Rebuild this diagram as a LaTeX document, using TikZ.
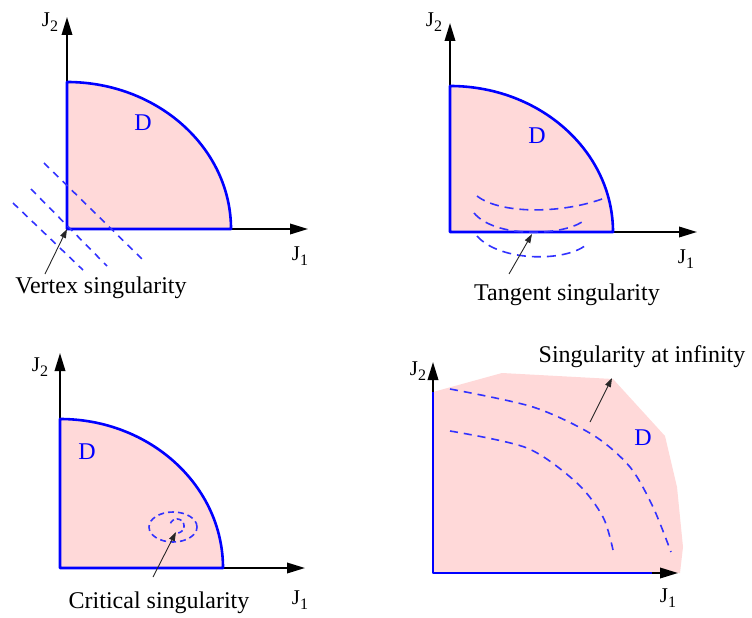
\documentclass[tikz,border=0pt]{standalone}
\usepackage{fontspec}
\setmainfont{Liberation Serif}
\usetikzlibrary{arrows.meta}
\definecolor{pinkfill}{RGB}{255,217,217}
\definecolor{dblue}{RGB}{50,50,255}
\newcommand\Jlab[1]{J\raisebox{-5pt}{\fontsize{16}{16}\selectfont #1}}
\tikzset{
  region/.style={fill=pinkfill, draw=none},
  axis/.style={draw=black, line width=1.9pt, -{Triangle[length=18pt,width=10.5pt]}},
  bound/.style={draw=blue, line width=2.6pt, line join=round},
  sing/.style={draw=dblue, line width=1.6pt, dash pattern=on 7pt off 6pt},
  note/.style={draw=black!85, line width=0.9pt, -{Triangle[length=9pt,width=6pt]}},
  lab/.style={font=\fontsize{24}{28}\selectfont, inner sep=0pt},
  dlab/.style={font=\fontsize{24}{28}\selectfont, text=blue, inner sep=0pt},
  jlab/.style={font=\fontsize{21}{24}\selectfont, inner sep=0pt}
}
\begin{document}
\begin{tikzpicture}[x=1pt,y=-1pt]
\useasboundingbox (0,0) rectangle (752,618);

% ---------- Panel 1: vertex singularity ----------
\coordinate (O1) at (67,229);
\coordinate (Y1) at (67,17);
\coordinate (X1) at (308,229);
\fill[region] (O1) -- (67,82) .. controls (157.5,82) and (231,148) .. (231,229) -- cycle;
\draw[axis] (O1) -- (Y1);
\draw[axis] (O1) -- (X1);
\draw[bound] (O1) -- (67,82) .. controls (157.5,82) and (231,148) .. (231,229) -- cycle;
\draw[sing] (44,163) -- (142,259);
\draw[sing] (31,189) -- (107,266);
\draw[sing] (13,203) -- (83,270);
\node[dlab] (D1) at (143,123) {D};
\node[jlab] (J21) at (50,22) {\Jlab{2}};
\node[jlab] (J11) at (300,256) {\Jlab{1}};
\node[lab, anchor=base] (T1) at (101,293) {Vertex singularity};
\coordinate (N1) at (45,274);
\draw[note] (N1) -- (O1);

% ---------- Panel 2: tangent singularity ----------
\coordinate (O2) at (450,232);
\coordinate (Y2) at (450,23);
\coordinate (X2) at (697,232);
\fill[region] (O2) -- (450,86) .. controls (540,86) and (613,151.4) .. (613,232) -- cycle;
\draw[axis] (O2) -- (Y2);
\draw[axis] (O2) -- (X2);
\draw[bound] (O2) -- (450,86) .. controls (540,86) and (613,151.4) .. (613,232) -- cycle;
\draw[sing, dash pattern=on 9pt off 6pt] (477,196) .. controls (500,214) and (560,214) .. (602,199);
\draw[sing, dash pattern=on 9pt off 6pt] (474,213) .. controls (495,238) and (560,236) .. (582,222);
\draw[sing, dash pattern=on 9pt off 6pt] (477,236) .. controls (500,262) and (565,262) .. (586,245);
\node[dlab] (D2) at (537,136) {D};
\node[jlab] (J22) at (434,22) {\Jlab{2}};
\node[jlab] (J12) at (686,259) {\Jlab{1}};
\node[lab, anchor=base] (T2) at (567,300) {Tangent singularity};
\coordinate (N2a) at (509,274);
\coordinate (N2b) at (532,234);
\draw[note] (N2a) -- (N2b);

% ---------- Panel 3: critical singularity ----------
\coordinate (O3) at (60,568);
\coordinate (Y3) at (60,353);
\coordinate (X3) at (305,568);
\fill[region] (O3) -- (60,419) .. controls (150,419) and (223,485.8) .. (223,568) -- cycle;
\draw[axis] (O3) -- (Y3);
\draw[axis] (O3) -- (X3);
\draw[bound] (O3) -- (60,419) .. controls (150,419) and (223,485.8) .. (223,568) -- cycle;
\draw[sing, dash pattern=on 6pt off 4pt] (173,527) ellipse [x radius=24pt, y radius=15pt];
\draw[sing, dash pattern=on 5pt off 3pt] plot[smooth, domain=-80:165, samples=30] ({177+7*cos(\x)},{526-7*sin(\x)});
\node[dlab] (D3) at (87,452) {D};
\node[jlab] (J23) at (40,367) {\Jlab{2}};
\node[jlab] (J13) at (300,600) {\Jlab{1}};
\node[lab, anchor=base] (T3) at (159,608) {Critical singularity};
\coordinate (N3a) at (153,577);
\coordinate (N3b) at (176,532);
\draw[note] (N3a) -- (N3b);

% ---------- Panel 4: singularity at infinity ----------
\coordinate (O4) at (433,573);
\coordinate (Y4) at (433,362);
\coordinate (X4) at (678,573);
\fill[region] (O4) -- (433,392) -- (502,373) -- (613,379) -- (665,436) -- (677,487) -- (683,547) -- (680,573) -- cycle;
\draw[axis] (O4) -- (Y4);
\draw[axis] (O4) -- (X4);
\draw[bound] (433,392) -- (O4) -- (652,573);
\draw[sing, dash pattern=on 8pt off 6pt] plot[smooth] coordinates {(450,389) (533,407) (593,435) (630,467) (653,507) (671,552)};
\draw[sing, dash pattern=on 8pt off 6pt] plot[smooth] coordinates {(450,431) (527,448) (577,483) (603,517) (613,550)};
\node[dlab] (D4) at (643,438) {D};
\node[jlab] (J24) at (418,371) {\Jlab{2}};
\node[jlab] (J14) at (668,598) {\Jlab{1}};
\node[lab, anchor=base] (T4) at (642,362) {Singularity at infinity};
\coordinate (N4a) at (590,422);
\coordinate (N4b) at (612,378);
\draw[note] (N4a) -- (N4b);
\end{tikzpicture}
\end{document}
